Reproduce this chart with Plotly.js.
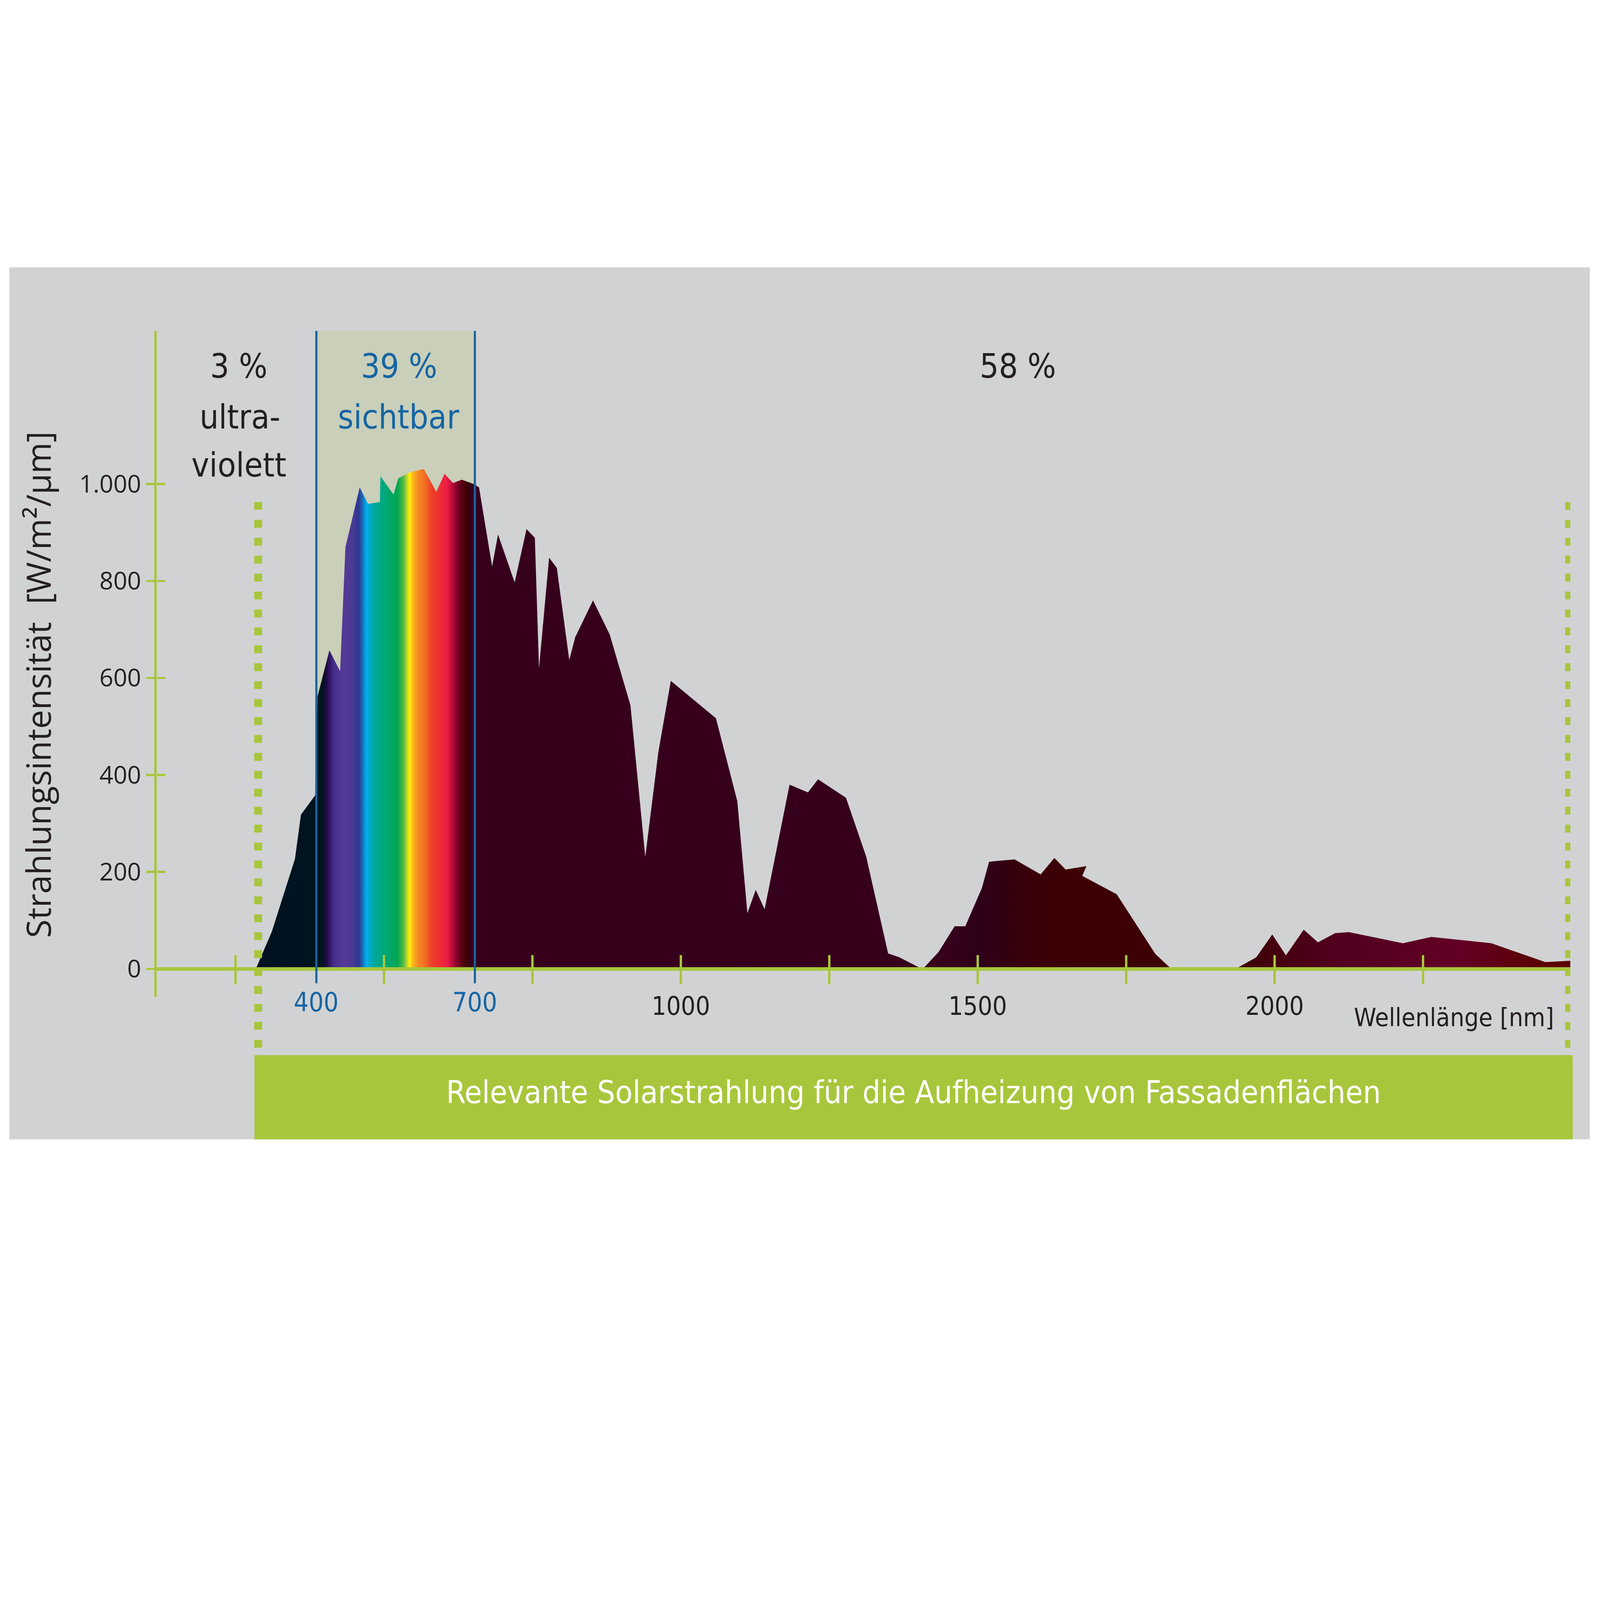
<!DOCTYPE html>
<html>
<head>
<meta charset="utf-8">
<script src="https://cdn.plot.ly/plotly-3.0.1.min.js"></script>
<style>
html, body { margin: 0; padding: 0; background: #ffffff; overflow: hidden; }
</style>
</head>
<body>
<div id="chart"></div>
<script>
// Sonnenspektrum: Wellenlänge [nm] / Strahlungsintensität [W/m²/µm]
var wavelength = [284, 311, 350, 360, 384, 388, 408, 426, 435, 459, 473, 493, 494, 516, 524, 544, 567, 588, 602, 616, 631, 651, 660,
	682, 692, 720, 740, 754, 761, 778, 791, 812, 822, 852, 880, 915, 940, 962, 983, 1059, 1095, 1112, 1126, 1141, 1183, 1214, 1231,
	1278, 1312, 1349, 1368, 1403, 1409, 1434, 1461, 1479, 1507, 1519, 1562, 1606, 1629, 1648, 1683, 1676, 1734, 1799, 1826, 1934,
	1969, 1996, 2019, 2049, 2073, 2102, 2125, 2216, 2264, 2365, 2456, 2498];
var intensity = [0, 77, 227, 318, 358, 562, 657, 614, 870, 993, 959, 963, 1016, 978, 1012, 1024, 1031, 984, 1021, 1002, 1009, 1000, 993,
	830, 896, 797, 907, 889, 620, 848, 827, 637, 684, 760, 690, 544, 231, 447, 594, 517, 346, 115, 163, 123, 380, 364, 391,
	353, 232, 32, 24, 2, 2, 35, 88, 88, 167, 221, 226, 195, 229, 205, 212, 192, 154, 31, 0, 0,
	24, 71, 28, 81, 55, 74, 76, 53, 66, 53, 14, 17];

// Farbverlauf der Fläche
var gradient_nm = [284, 386, 397, 404, 416, 430, 447, 457, 463, 470, 483, 502, 522, 532, 538, 543, 549, 557, 569, 581, 592, 606, 618,
	624, 630, 639, 645, 1450, 1500, 1590, 1660, 1940, 2110, 2310, 2457, 2498];
var gradient_colors = ["#00111f", "#001420", "#001420", "#26094a", "#452f8f", "#553a95", "#4a3a94", "#2e3592", "#1a65b0", "#00aeef",
	"#00a99d", "#00a878", "#00a651", "#4cb848", "#b5d334", "#fff200", "#fcb21f", "#f58a22", "#f36d24", "#ee3f27", "#ed3131", "#ed1c45",
	"#a50735", "#7a0027", "#5c0016", "#3d0000", "#36001d", "#36001c", "#2e001a", "#390008", "#3d0003", "#3d0004", "#520020", "#620025",
	"#5a0000", "#5a0000"];

var y_ticks = [0, 200, 400, 600, 800, 1000];
var y_tick_labels = ["0", "200", "400", "600", "800", "1.000"];
var x_ticks = [250, 500, 750, 1000, 1250, 1500, 1750, 2000, 2250];
var x_tick_labels = ["", "", "", "1000", "", "1500", "", "2000", ""];

var band_edges = [386, 653];        // blaue Linien
var band_labels = ["400", "700"];
var relevant_edges = [288, 2496];   // gepunktete Linien
var share_labels = ["3 %", "39 %", "58 %"];

var x_range = [117, 2498];
var y_range = [-57.6, 1315.8];

// Maße in Pixeln der Vorlage (5266 x 5059), werden auf das Fenster umgerechnet
const W = 5266;
const H = 5059;
const S = (window.innerWidth || W) / W;
const plot_left = 515;
const plot_right = 5168;
const plot_top = 1089;
const plot_bottom = 3281;

const green = "#a8c63b";
const blue = "#1565a3";
const ink = "#231f20";
const narrow = "'Liberation Sans Narrow', 'DejaVu Sans Condensed', 'Open Sans', sans-serif";
const wide = "'Open Sans', 'DejaVu Sans', sans-serif";

function s(v) { return v * S; }
// Seitenpixel -> paper
function px(x) { return (x - plot_left) / (plot_right - plot_left); }
function py(y) { return (plot_bottom - y) / (plot_bottom - plot_top); }

function label(text, x, y, size, color, family, angle)
{
	return {
		text: text,
		xref: "paper", yref: "paper",
		x: px(x), y: py(y),
		xanchor: "center", yanchor: "middle",
		textangle: angle || 0,
		showarrow: false,
		font: {family: family || narrow, size: s(size), color: color}
	};
}

var span = gradient_nm[gradient_nm.length - 1] - gradient_nm[0];
var colorscale = gradient_nm.map(function (nm, i)
{
	return [(nm - gradient_nm[0]) / span, gradient_colors[i]];
});

var spectrum = {
	type: "scatter",
	x: wavelength,
	y: intensity,
	mode: "none",
	fill: "tozeroy",
	fillgradient: {
		type: "horizontal",
		colorscale: colorscale,
		start: gradient_nm[0],
		stop: gradient_nm[gradient_nm.length - 1]
	},
	hoverinfo: "skip",
	showlegend: false
};

// leere Spur für die zweiten Achsen (Striche nach innen)
var dummy = {type: "scatter", x: [], y: [], xaxis: "x2", yaxis: "y2", showlegend: false, hoverinfo: "skip"};

var x_pos = -y_range[0] / (y_range[1] - y_range[0]);

var shapes = [
	// grauer Kasten
	{type: "rect", xref: "paper", yref: "paper", x0: px(30), x1: px(5232), y0: py(3750), y1: py(880),
		fillcolor: "#d1d2d4", line: {width: 0}, layer: "below"},
	// sichtbarer Bereich
	{type: "rect", xref: "x", yref: "y", x0: band_edges[0], x1: band_edges[1], y0: 0, y1: y_range[1],
		fillcolor: "#c9cfb9", line: {width: 0}, layer: "below"},
	// grüner Balken
	{type: "rect", xref: "paper", yref: "paper", x0: px(837), x1: px(5176), y0: py(3750), y1: py(3473),
		fillcolor: green, line: {width: 0}, layer: "below"}
];

band_edges.forEach(function (e)
{
	shapes.push({type: "line", xref: "x", yref: "y", x0: e, x1: e, y0: -29.6, y1: y_range[1],
		line: {color: "#1a64a0", width: s(7)}, layer: "above"});
});

relevant_edges.forEach(function (e)
{
	var d = s(26).toFixed(1) + "px," + s(33).toFixed(1) + "px";
	shapes.push({type: "line", xref: "x", yref: "paper", x0: e, x1: e, y0: py(1652), y1: py(3462),
		line: {color: green, width: s(26), dash: d}, layer: "above"});
});

var annotations = [
	label(share_labels[0], 786, 1205, 110, ink),
	label("ultra-", 790, 1372, 110, ink),
	label("violett", 786, 1530, 110, ink),
	label(share_labels[1], 1313, 1205, 110, blue),
	label("sichtbar", 1311, 1372, 110, blue),
	label(share_labels[2], 3350, 1205, 110, ink),
	label("Wellenlänge [nm]", 4785, 3348, 83, ink),
	label("Relevante Solarstrahlung für die Aufheizung von Fassadenflächen", 3006, 3595, 104, "#ffffff"),
	label("Strahlungsintensität  [W/m²/μm]", 124, 2253, 111, ink, wide, -90)
];

band_edges.forEach(function (e, i)
{
	annotations.push({
		text: band_labels[i], xref: "x", yref: "paper", x: e, y: py(3299),
		xanchor: "center", yanchor: "middle", showarrow: false,
		font: {family: narrow, size: s(86), color: blue}
	});
});

var axis_common = {
	range: x_range,
	showgrid: false,
	zeroline: false,
	tickvals: x_ticks,
	tickcolor: green,
	tickwidth: s(7),
	ticklen: s(45)
};

var layout = {
	width: s(W),
	height: s(H),
	margin: {l: s(plot_left), r: s(W - plot_right), t: s(plot_top), b: s(H - plot_bottom), pad: 0},
	paper_bgcolor: "#ffffff",
	plot_bgcolor: "rgba(0,0,0,0)",
	showlegend: false,
	xaxis: Object.assign({}, axis_common, {
		anchor: "free",
		position: x_pos,
		showline: true,
		linecolor: green,
		linewidth: s(11),
		ticks: "outside",
		ticktext: x_tick_labels,
		tickfont: {family: narrow, size: s(84), color: ink},
		ticklabelstandoff: s(-34)
	}),
	xaxis2: Object.assign({}, axis_common, {
		anchor: "free",
		position: x_pos,
		overlaying: "x",
		showline: false,
		ticks: "inside",
		showticklabels: false
	}),
	yaxis: {
		range: y_range,
		showgrid: false,
		zeroline: false,
		showline: true,
		linecolor: green,
		linewidth: s(8),
		ticks: "outside",
		ticklen: s(27),
		tickwidth: s(7),
		tickcolor: green,
		tickvals: y_ticks,
		ticktext: y_tick_labels,
		tickfont: {family: wide, size: s(80), color: ink},
		ticklabelstandoff: s(22)
	},
	yaxis2: {
		range: y_range,
		anchor: "free",
		position: 0,
		overlaying: "y",
		showgrid: false,
		zeroline: false,
		showline: false,
		ticks: "inside",
		ticklen: s(27),
		tickwidth: s(7),
		tickcolor: green,
		tickvals: y_ticks.slice(1),
		showticklabels: false
	},
	shapes: shapes,
	annotations: annotations
};

Plotly.newPlot("chart", [spectrum, dummy], layout, {staticPlot: true});
</script>
</body>
</html>
